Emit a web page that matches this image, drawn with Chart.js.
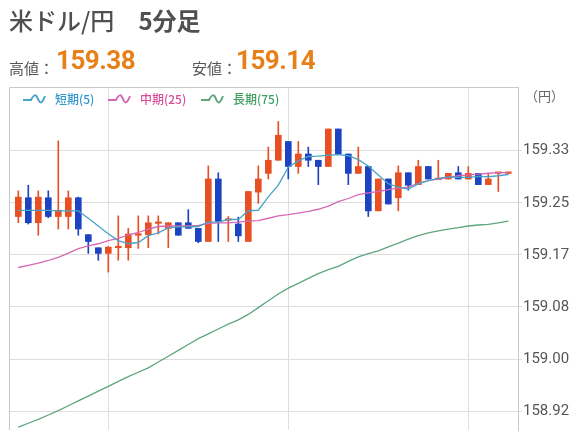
<!DOCTYPE html>
<html>
<head>
<meta charset="utf-8">
<script src="https://cdn.jsdelivr.net/npm/chart.js@4"></script>
<style>
html,body{margin:0;padding:0;background:#fff;}
#wrap{position:relative;width:576px;height:440px;overflow:hidden;font-family:"Noto Sans CJK JP","Noto Sans",sans-serif;}
canvas{position:absolute;left:0;top:0;}
.title{position:absolute;left:9px;top:7px;font-size:24px;line-height:26px;color:#505050;white-space:pre;font-weight:500;}
.title b{font-weight:700;}
.lbl{position:absolute;top:60px;font-size:15px;line-height:16px;color:#555;}
.val{position:absolute;top:46px;font-family:Roboto,"Noto Sans",sans-serif;font-weight:700;font-size:26px;line-height:28px;color:#e8801a;letter-spacing:-0.5px;}
.unit{position:absolute;left:525px;top:88px;font-size:13px;line-height:15px;color:#666;}
</style>
</head>
<body>
<div id="wrap">
<canvas id="c" width="576" height="440"></canvas>
<div class="title">米ドル/円　<b>5分足</b></div>
<div class="lbl" style="left:9px">高値：</div>
<div class="val" style="left:56px">159.38</div>
<div class="lbl" style="left:192px">安値：</div>
<div class="val" style="left:236px">159.14</div>
<div class="unit">（円）</div>
</div>
<script>
// ---- data ----
const opens  = [159.228,159.258,159.218,159.258,159.228,159.228,159.258,159.199,159.178,159.169,159.178,159.178,159.198,159.199,159.217,159.209,159.218,159.218,159.209,159.188,159.288,159.222,159.216,159.188,159.267,159.297,159.318,159.348,159.308,159.328,159.318,159.308,159.368,159.328,159.297,159.308,159.237,159.288,159.258,159.298,159.279,159.308,159.287,159.288,159.298,159.288,159.297,159.279,159.297,159.297];
const highs  = [159.269,159.278,159.269,159.269,159.349,159.269,159.259,159.199,159.178,159.180,159.229,159.209,159.229,159.229,159.229,159.218,159.218,159.239,159.209,159.309,159.298,159.228,159.227,159.268,159.309,159.339,159.380,159.348,159.348,159.339,159.318,159.368,159.368,159.328,159.339,159.308,159.288,159.288,159.309,159.298,159.318,159.308,159.318,159.297,159.308,159.308,159.297,159.297,159.298,159.299];
const lows   = [159.218,159.216,159.198,159.226,159.208,159.208,159.198,159.169,159.158,159.139,159.158,159.158,159.177,159.178,159.200,159.178,159.198,159.209,159.186,159.188,159.188,159.188,159.188,159.188,159.249,159.288,159.318,159.288,159.297,159.308,159.279,159.308,159.328,159.279,159.297,159.228,159.237,159.248,159.237,159.270,159.279,159.288,159.287,159.288,159.288,159.288,159.279,159.279,159.268,159.296];
const closes = [159.259,159.218,159.259,159.228,159.238,159.258,159.208,159.188,159.169,159.179,159.179,159.200,159.199,159.218,159.219,159.218,159.198,159.209,159.188,159.288,159.220,159.224,159.197,159.268,159.288,159.318,159.358,159.308,159.328,159.318,159.308,159.368,159.328,159.297,159.308,159.237,159.288,159.248,159.298,159.278,159.308,159.288,159.288,159.297,159.288,159.297,159.279,159.288,159.298,159.298];
const ma5  = [159.2377,159.2377,159.2377,159.2377,159.2369,159.2369,159.2369,159.2252,159.2128,159.2004,159.1895,159.1844,159.1864,159.1973,159.2019,159.2097,159.2113,159.2113,159.2120,159.2190,159.2195,159.2232,159.2232,159.2372,159.2380,159.2595,159.2781,159.3069,159.3170,159.3240,159.3247,159.3263,159.3271,159.3252,159.3190,159.3087,159.2944,159.2804,159.2750,159.2719,159.2801,159.2854,159.2890,159.2913,159.2905,159.2905,159.2921,159.2916,159.2932,159.2952];
const ma25 = [159.1464,159.1498,159.1533,159.1576,159.1626,159.1693,159.1766,159.1809,159.1844,159.1895,159.1931,159.1984,159.2024,159.2077,159.2120,159.2128,159.2128,159.2128,159.2139,159.2170,159.2179,159.2179,159.2190,159.2206,159.2214,159.2252,159.2291,159.2310,159.2335,159.2361,159.2396,159.2447,159.2517,159.2568,159.2630,159.2657,159.2680,159.2711,159.2734,159.2750,159.2812,159.2854,159.2879,159.2905,159.2932,159.2947,159.2957,159.2972,159.2983,159.2983];
const ma75 = [158.8910,158.8972,158.9034,158.9104,158.9174,158.9252,158.9330,158.9407,158.9485,158.9563,158.9641,158.9718,158.9788,158.9858,158.9952,159.0045,159.0138,159.0231,159.0325,159.0402,159.0480,159.0558,159.0625,159.0713,159.0822,159.0931,159.1040,159.1133,159.1211,159.1289,159.1366,159.1429,159.1483,159.1561,159.1635,159.1685,159.1729,159.1794,159.1853,159.1918,159.1973,159.2019,159.2050,159.2077,159.2102,159.2128,159.2144,159.2155,159.2179,159.2206];
const yTicks = [158.9167, 159.0000, 159.0833, 159.1667, 159.2500, 159.3333];
const xGridAt = [9, 27, 45];
const legendLabels = ['短期(5)', '中期(25)', '長期(75)'];

// ---- styles ----
const UP = '#e84f22', DOWN = '#1c44c2';
const C5 = '#4aa3c8', C25 = '#d668b4', C75 = '#5ea67e';
const TXT = ['#2f98cc', '#d94f9a', '#3f9f62'];
const candleColor = ctx => closes[ctx.dataIndex] >= opens[ctx.dataIndex] ? UP : DOWN;

const framePlugin = {
  id: 'frame',
  beforeDatasetsDraw(chart) {
    const {ctx, chartArea: a} = chart;
    ctx.save();
    ctx.strokeStyle = '#c8c8c8';
    ctx.lineWidth = 1;
    ctx.beginPath();
    ctx.moveTo(a.left + 0.5, a.bottom);
    ctx.lineTo(a.left + 0.5, a.top + 0.5);
    ctx.lineTo(a.right, a.top + 0.5);
    ctx.stroke();
    ctx.restore();
  },
  afterDraw(chart) {
    const {ctx} = chart;
    const xs = [23, 108, 201];
    const cols = [C5, C25, C75];
    const y = 99;
    ctx.save();
    ctx.font = '500 12px "Noto Sans CJK JP"';
    ctx.textBaseline = 'middle';
    xs.forEach((x, k) => {
      ctx.strokeStyle = cols[k];
      ctx.lineWidth = 2;
      ctx.beginPath();
      ctx.moveTo(x, y + 1);
      ctx.lineTo(x + 8, y + 1);
      ctx.bezierCurveTo(x + 11, y - 5, x + 13, y - 5, x + 15, y);
      ctx.bezierCurveTo(x + 17, y + 5, x + 19, y + 5, x + 22, y - 3);
      ctx.stroke();
      ctx.fillStyle = TXT[k];
      ctx.fillText(legendLabels[k], x + 32, y);
    });
    ctx.restore();
  }
};

new Chart(document.getElementById('c'), {
  type: 'bar',
  data: {
    datasets: [
      {type: 'line', data: ma5.map((v, i) => ({x: i, y: v})), borderColor: C5, borderWidth: 1.3, pointRadius: 0, tension: 0, order: 0},
      {type: 'line', data: ma25.map((v, i) => ({x: i, y: v})), borderColor: C25, borderWidth: 1.3, pointRadius: 0, tension: 0, order: 0},
      {type: 'line', data: ma75.map((v, i) => ({x: i, y: v})), borderColor: C75, borderWidth: 1.3, pointRadius: 0, tension: 0, order: 0},
      {type: 'bar', data: opens.map((o, i) => ({x: i, y: [o, closes[i]]})), backgroundColor: candleColor, barThickness: 6, grouped: false, minBarLength: 1.5, order: 2},
      {type: 'bar', data: lows.map((l, i) => ({x: i, y: [l, highs[i]]})), backgroundColor: candleColor, barThickness: 1, grouped: false, order: 3}
    ]
  },
  options: {
    responsive: false,
    animation: false,
    devicePixelRatio: 1,
    layout: {padding: {left: 9, top: 87, right: 0, bottom: 0}},
    plugins: {legend: {display: false}, tooltip: {enabled: false}},
    scales: {
      x: {
        type: 'linear', min: -0.93, max: 49.97, offset: false,
        grid: {color: '#dedede', drawTicks: false, offset: false},
        border: {display: false},
        ticks: {display: false},
        afterBuildTicks: s => { s.ticks = xGridAt.map(v => ({value: v})); },
        afterFit: s => { s.height = 0; }
      },
      y: {
        position: 'right', min: 158.8864, max: 159.4352,
        grid: {color: '#dedede', tickLength: 4},
        border: {color: '#c8c8c8'},
        ticks: {color: '#555', font: {family: 'Roboto', size: 15}, padding: 1, callback: v => Number(v).toFixed(2)},
        afterBuildTicks: s => { s.ticks = yTicks.map(v => ({value: v})); },
        afterFit: s => { s.width = 58; }
      }
    }
  },
  plugins: [framePlugin]
});
</script>
</body>
</html>
